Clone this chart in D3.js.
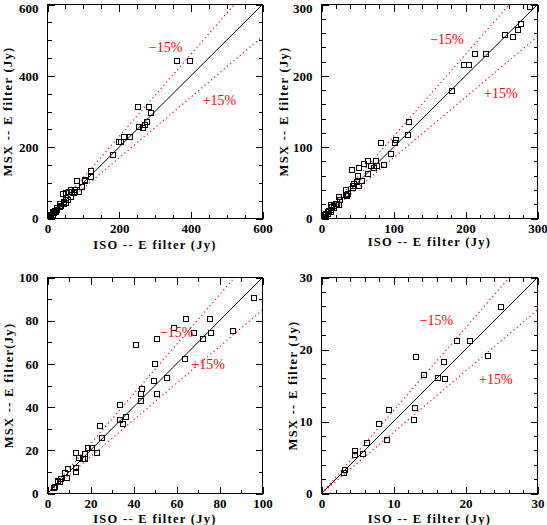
<!DOCTYPE html>
<html><head><meta charset="utf-8">
<script src="https://cdn.jsdelivr.net/npm/d3@7"></script>
<style>body{margin:0;background:#fff}</style>
</head><body>
<svg id="c" width="547" height="525"></svg>
<script>
// ISO vs MSX fluxes (Jy), E filter
const isoFlux = [
  360, 395, 252, 281,
  288.4, 276.4, 272, 264.8, 254, 228, 212.5, 204.6, 197.2, 180.6, 120.8, 119.4, 102.8, 101.9, 81.9,
  95.8, 64.4, 75.5, 58.7, 67.8, 76.0, 85.9, 50.8, 72.1, 41.0, 49.8, 63.9, 49.1, 55.4, 43.8, 43.3, 50.8, 43.3, 33.7, 36.4, 33.3, 34.7, 24.0,
  24.9, 23.0, 20.5, 18.75, 17.0, 17.1, 16.1, 14.2, 13.1, 12.9, 12.8, 9.3, 7.9, 9.0, 6.2, 4.6, 4.6, 5.7, 3.2, 3.0
];
const msxFlux = [
  444, 444, 315, 315,
  297.5, 273, 264.5, 255, 257.8, 231.2, 231.2, 215.8, 215.8, 179.5, 135.3, 118.1, 110.2, 106, 106.5,
  90.6, 80.9, 80.9, 76.7, 74.5, 74.4, 75.3, 71.6, 71.6, 69.0, 60.0, 62.5, 52.2, 53.7, 48.5, 46.1, 46.1, 43.1, 41.0, 35.6, 34.1, 32.3, 31.5,
  25.95, 19.2, 21.3, 21.3, 18.3, 16.0, 16.1, 16.5, 19.0, 12.0, 10.3, 11.6, 9.7, 7.5, 7.1, 6.0, 5.4, 5.6, 3.35, 2.9
];
const panelMax = [600, 300, 100, 30];
const majorStep = [200, 100, 20, 10];
const minorStep = [50, 20, 10, 2];
const xTitle = "ISO -- E filter (Jy)";
const yTitles = ["MSX -- E filter (Jy)", "MSX -- E filter (Jy)", "MSX -- E filter(Jy)", "MSX -- E filter (Jy)"];
const bandNames = ["\u221215%", "+15%"];
const bandSlopes = [1.15, 0.85];

// layout only
const layout = [
  {left:47.5, top:4.5, w:215, h:214, xTitleY:249, yTitleX:8, band:[[0.55,0.803],[0.80,0.552]]},
  {left:321.5, top:4.5, w:216, h:214, xTitleY:246, yTitleX:284, band:[[0.581,0.837],[0.830,0.584]]},
  {left:47.5, top:277.5, w:215, h:216, xTitleY:523, yTitleX:9, band:[[0.601,0.745],[0.747,0.597]]},
  {left:321.5, top:277.5, w:216, h:216, xTitleY:523, yTitleX:292.5, band:[[0.532,0.803],[0.807,0.53]]}
];

const svg = d3.select("#c");
const tickFont = "'Liberation Serif', serif";
const pts = isoFlux.map((v,i)=>({x:v, y:msxFlux[i]}));

panelMax.forEach((mx, p) => {
  const L = layout[p];
  const g = svg.append("g").attr("transform", `translate(${L.left},${L.top})`);
  const x = d3.scaleLinear().domain([0, mx]).range([0, L.w]);
  const y = d3.scaleLinear().domain([0, mx]).range([L.h, 0]);
  const majors = d3.range(0, mx + 1e-9, majorStep[p]);
  const minors = d3.range(0, mx + 1e-9, minorStep[p]).filter(v => Math.abs(v / majorStep[p] - Math.round(v / majorStep[p])) > 1e-6);

  const clipId = "clip" + p;
  g.append("clipPath").attr("id", clipId).append("rect").attr("width", L.w).attr("height", L.h);

  const styleAxis = sel => {
    sel.select(".domain").remove();
    sel.selectAll("line").attr("stroke", "#000").attr("stroke-width", 1).attr("shape-rendering", "crispEdges");
    sel.selectAll("text").attr("font-family", tickFont).attr("font-size", 13).attr("font-weight", "bold").attr("fill", "#000");
  };
  // bottom
  g.append("g").attr("transform", `translate(0,${L.h})`)
    .call(d3.axisBottom(x).tickValues(majors).tickSize(-7).tickPadding(5).tickFormat(d3.format("d"))).call(styleAxis);
  g.append("g").attr("transform", `translate(0,${L.h})`)
    .call(d3.axisBottom(x).tickValues(minors).tickSize(-4).tickFormat("")).call(styleAxis);
  // top
  g.append("g").call(d3.axisTop(x).tickValues(majors).tickSize(-7).tickFormat("")).call(styleAxis);
  g.append("g").call(d3.axisTop(x).tickValues(minors).tickSize(-4).tickFormat("")).call(styleAxis);
  // left
  const yl = g.append("g").call(d3.axisLeft(y).tickValues(majors).tickSize(-7).tickPadding(9).tickFormat(d3.format("d"))).call(styleAxis);
  // keep top label inside the page
  yl.selectAll(".tick").filter(d => d === mx && L.top < 10).select("text").attr("dy", "0.62em");
  g.append("g").call(d3.axisLeft(y).tickValues(minors).tickSize(-4).tickFormat("")).call(styleAxis);
  // right
  g.append("g").attr("transform", `translate(${L.w},0)`)
    .call(d3.axisRight(y).tickValues(majors).tickSize(-7).tickFormat("")).call(styleAxis);
  g.append("g").attr("transform", `translate(${L.w},0)`)
    .call(d3.axisRight(y).tickValues(minors).tickSize(-4).tickFormat("")).call(styleAxis);

  const inner = g.append("g").attr("clip-path", `url(#${clipId})`);
  // 1:1 line
  inner.append("line").attr("x1", x(0)).attr("y1", y(0)).attr("x2", x(mx)).attr("y2", y(mx))
    .attr("stroke", "#000").attr("stroke-width", 1);
  // +-15% lines
  bandSlopes.forEach(s => {
    inner.append("line").attr("x1", x(0)).attr("y1", y(0)).attr("x2", x(mx)).attr("y2", y(mx * s))
      .attr("stroke", "#ff0000").attr("stroke-width", 1.2).attr("stroke-dasharray", "1.2 3");
  });
  // points
  inner.selectAll("rect.pt").data(pts.filter(d => d.x <= mx && d.y <= mx)).join("rect")
    .attr("class", "pt")
    .attr("x", d => Math.round(x(d.x)) - 2.5).attr("y", d => Math.round(y(d.y)) - 2.5)
    .attr("width", 5).attr("height", 5)
    .attr("fill", "none").attr("stroke", "#000").attr("stroke-width", 1)
    .attr("shape-rendering", "crispEdges");

  // frame
  g.append("rect").attr("width", L.w).attr("height", L.h).attr("fill", "none")
    .attr("stroke", "#000").attr("stroke-width", 1.2).attr("shape-rendering", "crispEdges");

  // band labels
  bandNames.forEach((t, i) => {
    g.append("text").attr("x", x(mx * L.band[i][0])).attr("y", y(mx * L.band[i][1]))
      .attr("dy", "0.35em").attr("text-anchor", "middle")
      .attr("font-family", tickFont).attr("font-size", 14).attr("fill", "#ff0000")
      .text(t);
  });

  // titles
  svg.append("text").attr("x", L.left + L.w / 2).attr("y", L.xTitleY).attr("text-anchor", "middle")
    .attr("font-family", tickFont).attr("font-size", 12.5).attr("font-weight", "bold").attr("letter-spacing", 1.3)
    .text(xTitle);
  svg.append("text").attr("transform", `translate(${L.yTitleX},${L.top + L.h / 2}) rotate(-90)`)
    .attr("text-anchor", "middle").attr("dy", "0.35em")
    .attr("font-family", tickFont).attr("font-size", 12.5).attr("font-weight", "bold").attr("letter-spacing", 1.3)
    .text(yTitles[p]);
});
</script>
</body></html>
